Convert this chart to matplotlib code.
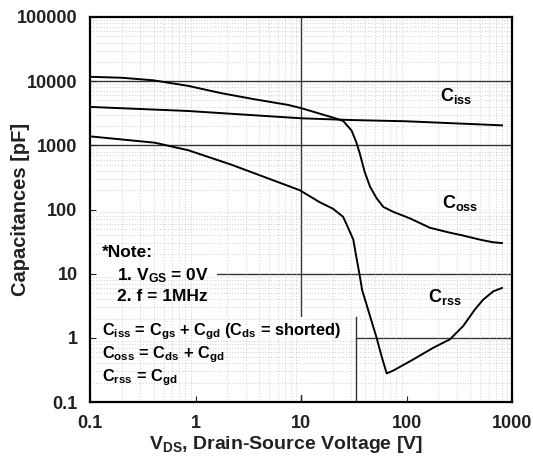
import matplotlib
matplotlib.use("Agg")
import matplotlib.pyplot as plt
from matplotlib.patches import Rectangle

plt.rcParams.update({
    "font.family": "Liberation Sans",
    "font.weight": "bold",
    "axes.labelweight": "bold",
    "mathtext.fontset": "custom",
    "mathtext.rm": "Liberation Sans:bold",
    "mathtext.bf": "Liberation Sans:bold",
    "mathtext.it": "Liberation Sans:bold",
})

# curves (V_DS in V, capacitance in pF)
ciss_v = [0.1, 0.85, 10, 30, 100, 800]
ciss_c = [3970, 3430, 2640, 2480, 2370, 2050]

coss_v = [0.1, 0.2, 0.4, 0.85, 1.75, 3.6, 7.5, 10, 20, 25, 30, 33.3, 36, 40, 45,
          51.9, 60, 74.6, 107, 166, 250, 350, 493, 650, 800]
coss_c = [11700, 11300, 10300, 8450, 6500, 5230, 4270, 3800, 2710, 2400, 1710,
          1125, 740, 385, 226, 150, 110, 92, 73, 52, 44, 39, 34, 31, 30]

crss_v = [0.1, 0.41, 0.85, 2.18, 9.7, 15, 20, 25, 28, 31.2, 33, 36, 37.8,
          44.9, 51.9, 57.8, 64.6, 74.7, 115, 178, 257, 343, 443, 531, 660, 800]
crss_c = [1380, 1100, 840, 500, 200, 130, 103, 77, 51, 34, 20, 9.1, 5.6,
          2.2, 1.0, 0.52, 0.28, 0.31, 0.46, 0.70, 0.95, 1.53, 2.77, 3.95, 5.3, 6.0]

x_ticks = [0.1, 1, 10, 100, 1000]
x_labels = ["0.1", "1", "10", "100", "1000"]
y_ticks = [0.1, 1, 10, 100, 1000, 10000, 100000]
y_labels = ["0.1", "1", "10", "100", "1000", "10000", "100000"]

fig = plt.figure(figsize=(5.33, 4.59), dpi=100)
ax = fig.add_axes([0.169, 0.124, 0.792, 0.839])
ax.set_xscale("log")
ax.set_yscale("log")
ax.set_xlim(0.1, 1000)
ax.set_ylim(0.1, 100000)

# faint broken minor grid
ax.grid(which="minor", color="#a8a8a8", lw=0.5, ls=(0, (1, 3)), zorder=0)
ax.grid(which="major", visible=False)

# major lines that the datasheet actually draws
ax.axhline(10000, color="#333333", lw=1.0, zorder=1)
ax.axhline(1000, color="#333333", lw=1.0, zorder=1)
ax.axhline(10, xmin=0.30, xmax=1, color="#333333", lw=1.0, zorder=1)
ax.axhline(1, xmin=0.63, xmax=1, color="#333333", lw=1.0, zorder=1)
ax.axvline(10, ymin=0.221, ymax=1, color="#333333", lw=1.0, zorder=1)
ax.axvline(10, ymin=0, ymax=0.018, color="#333333", lw=1.0, zorder=1)
ax.axvline(33, ymin=0, ymax=0.221, color="#333333", lw=1.0, zorder=1)

# white boxes behind the notes
ax.add_patch(Rectangle((0.004, 0.239), 0.296, 0.187, transform=ax.transAxes,
                       facecolor="white", edgecolor="none", zorder=1.5))
ax.add_patch(Rectangle((0.004, 0.018), 0.62, 0.203, transform=ax.transAxes,
                       facecolor="white", edgecolor="none", zorder=1.5))

ax.plot(ciss_v, ciss_c, color="black", lw=1.4, zorder=3)
ax.plot(coss_v, coss_c, color="black", lw=1.4, zorder=3)
ax.plot(crss_v, crss_c, color="black", lw=1.4, zorder=3)

ax.text(206, 5900, r"C$_{\rm iss}$", fontsize=13, va="center", zorder=4)
ax.text(214, 126, r"C$_{\rm oss}$", fontsize=13, va="center", zorder=4)
ax.text(158, 4.3, r"C$_{\rm rss}$", fontsize=13, va="center", zorder=4)

fs = 12.5
ax.text(0.129, 21.4, "*Note:", fontsize=fs, va="center", zorder=4)
ax.text(0.179, 9.4, r"1. V$_{\rm GS}$ = 0V", fontsize=fs, va="center", zorder=4)
ax.text(0.179, 4.4, "2. f = 1MHz", fontsize=fs, va="center", zorder=4)

fs2 = 11.8
ax.text(0.129, 1.25, r"C$_{\rm iss}$ = C$_{\rm gs}$ + C$_{\rm gd}$ (C$_{\rm ds}$ = shorted)",
        fontsize=fs2, va="center", zorder=4)
ax.text(0.129, 0.545, r"C$_{\rm oss}$ = C$_{\rm ds}$ + C$_{\rm gd}$",
        fontsize=fs2, va="center", zorder=4)
ax.text(0.129, 0.24, r"C$_{\rm rss}$ = C$_{\rm gd}$", fontsize=fs2, va="center", zorder=4)

ax.set_xticks(x_ticks)
ax.set_xticklabels(x_labels)
ax.set_yticks(y_ticks)
ax.set_yticklabels(y_labels)
ax.minorticks_on()
ax.tick_params(which="minor", length=0)
ax.tick_params(which="major", direction="in", length=4, labelsize=13, pad=9,
               colors="#222222")
for s in ax.spines.values():
    s.set_linewidth(1.6)

ax.set_xlabel(r"V$_{\rm DS}$, Drain-Source Voltage [V]", fontsize=14, color="#222222",
              va="center")
ax.set_ylabel("Capacitances [pF]", fontsize=14.5, color="#222222", va="center")
ax.xaxis.set_label_coords(0.465, -0.11)
ax.yaxis.set_label_coords(-0.166, 0.5)

fig.savefig("out.png", dpi=100)
